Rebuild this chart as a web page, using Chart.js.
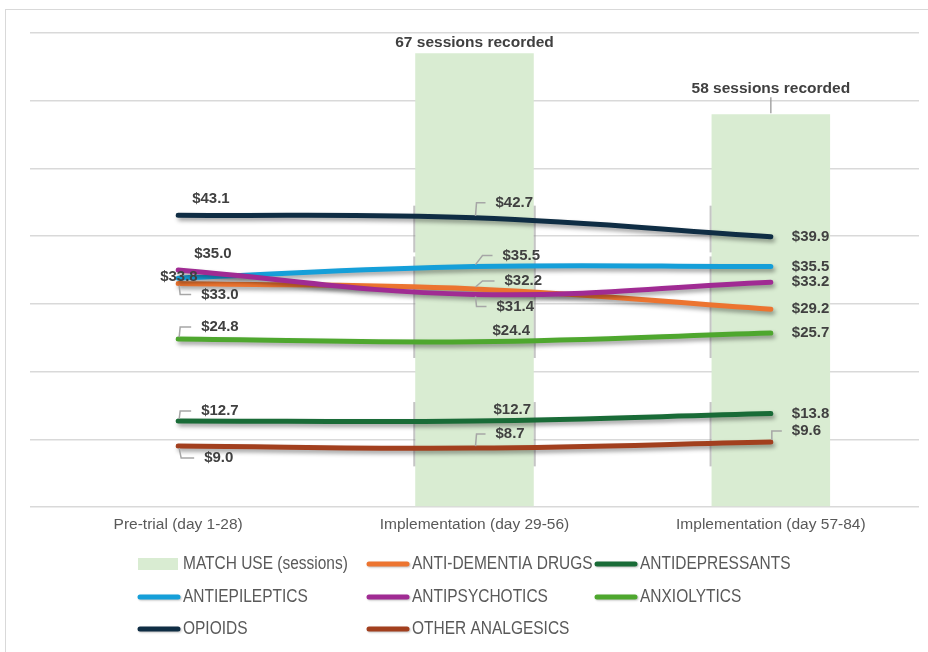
<!DOCTYPE html>
<html>
<head>
<meta charset="utf-8">
<script src="https://cdn.jsdelivr.net/npm/chart.js@4.4.1/dist/chart.umd.min.js"></script>
<style>
  html, body { margin: 0; padding: 0; background: #ffffff; }
  #wrap { position: relative; width: 928px; height: 652px; overflow: hidden; }
  #frame { position: absolute; left: 5px; top: 9px; width: 1000px; height: 1000px; border: 1px solid #d9d9d9; }
  #c { position: absolute; left: 0; top: 0; }
</style>
</head>
<body>
<div id="wrap">
  <div id="frame"></div>
  <canvas id="c" width="928" height="652"></canvas>
</div>
<script>
// Reporting periods
const periods = ['Pre-trial (day 1-28)', 'Implementation (day 29-56)', 'Implementation (day 57-84)'];

// MATCH sessions recorded in each period
const matchSessions = [null, 67, 58];

// Cost per drug class ($)
const antiDementia    = [33.0, 32.2, 29.2];
const antidepressants = [12.7, 12.7, 13.8];
const antiepileptics  = [33.8, 35.5, 35.5];
const antipsychotics  = [35.0, 31.4, 33.2];
const anxiolytics     = [24.8, 24.4, 25.7];
const opioids         = [43.1, 42.7, 39.9];
const otherAnalgesics = [9.0, 8.7, 9.6];

const LABEL_FONT = 'bold 15px "Liberation Sans", Arial, sans-serif';
const TEXT_FAMILY = '"Liberation Sans", Arial, sans-serif';

// Value label placement per point: [dx, dy, leaderElbowX or null]
const labelPlacement = {
  'ANTI-DEMENTIA DRUGS': [[23, 11, 2], [30, -8, 8], [21, 0, null]],
  'ANTIDEPRESSANTS':     [[23, -10, 2], [19, -11, null], [21, 0, null]],
  'ANTIEPILEPTICS':      [[-18, -1, null], [28, -11, 8], [21, 0, null]],
  'ANTIPSYCHOTICS':      [[16, -16, null], [22, 12, 2], [21, 0, null]],
  'ANXIOLYTICS':         [[23, -12, 2], [18, -11, null], [21, 0, null]],
  'OPIOIDS':             [[14, -16, null], [21, -15, 2], [21, 0, null]],
  'OTHER ANALGESICS':    [[26, 12, 3], [21, -14, 2], [21, -11, 1]]
};

function lineSet(label, data, color, idx) {
  return {
    type: 'line', label, data,
    borderColor: color, backgroundColor: color,
    borderWidth: 5, borderCapStyle: 'round', borderJoinStyle: 'round',
    tension: 0.4, pointRadius: 0, pointHoverRadius: 0,
    order: 50 - idx
  };
}

const datasets = [
  { type: 'bar', label: 'MATCH USE (sessions)', data: matchSessions,
    backgroundColor: '#d9ecd2', borderWidth: 0,
    barPercentage: 0.4, categoryPercentage: 1.0, order: 100 },
  lineSet('ANTI-DEMENTIA DRUGS', antiDementia, '#ec7430', 1),
  lineSet('ANTIDEPRESSANTS', antidepressants, '#196b37', 2),
  lineSet('ANTIEPILEPTICS', antiepileptics, '#159fd9', 3),
  lineSet('ANTIPSYCHOTICS', antipsychotics, '#a02b93', 4),
  lineSet('ANXIOLYTICS', anxiolytics, '#4ea72e', 5),
  lineSet('OPIOIDS', opioids, '#0f2d44', 6),
  lineSet('OTHER ANALGESICS', otherAnalgesics, '#a23f1e', 7)
];

// Soft drop shadow under each line
const lineShadow = {
  id: 'lineShadow',
  beforeDatasetDraw(chart, args) {
    if (args.meta.type !== 'line') return;
    const ctx = chart.ctx;
    ctx.save();
    ctx.shadowColor = 'rgba(0,0,0,0.38)';
    ctx.shadowBlur = 4;
    ctx.shadowOffsetX = 2;
    ctx.shadowOffsetY = 3;
  },
  afterDatasetDraw(chart, args) {
    if (args.meta.type !== 'line') return;
    chart.ctx.restore();
  }
};

// Grey edge strokes along the session bars
const barEdges = {
  id: 'barEdges',
  afterDatasetDraw(chart, args) {
    if (args.meta.type !== 'bar') return;
    const ctx = chart.ctx, y = chart.scales.y;
    const segs = [[44.5, 37.6], [37.0, 22.0], [15.5, 6.0]];
    const edges = [];
    args.meta.data.forEach((bar, i) => {
      if (matchSessions[i] == null) return;
      edges.push(bar.x - bar.width / 2 - 1);
      if (i === 1) edges.push(bar.x + bar.width / 2 + 1);
    });
    ctx.save();
    ctx.strokeStyle = 'rgba(140,140,140,0.5)';
    ctx.lineWidth = 2;
    edges.forEach(x => {
      segs.forEach(([a, b]) => {
        ctx.beginPath();
        ctx.moveTo(x, y.getPixelForValue(a));
        ctx.lineTo(x, y.getPixelForValue(b));
        ctx.stroke();
      });
    });
    ctx.restore();
  }
};

// Value labels, session captions and legend
const annotations = {
  id: 'annotations',
  afterDraw(chart) {
    const ctx = chart.ctx;
    ctx.save();
    ctx.font = LABEL_FONT;
    ctx.textBaseline = 'middle';
    ctx.fillStyle = '#404040';
    ctx.strokeStyle = '#a6a6a6';
    ctx.lineWidth = 1.5;

    chart.data.datasets.forEach((ds, di) => {
      const meta = chart.getDatasetMeta(di);
      if (ds.type === 'bar') {
        ctx.save();
        ctx.font = 'bold 15.5px ' + TEXT_FAMILY;
        meta.data.forEach((bar, i) => {
          const v = ds.data[i];
          if (v == null) return;
          const text = v + ' sessions recorded';
          ctx.textAlign = 'center';
          if (i === 1) {
            ctx.fillText(text, bar.x, bar.y - 11);
          } else {
            ctx.fillText(text, bar.x, bar.y - 26);
            ctx.beginPath();
            ctx.moveTo(bar.x, bar.y - 17);
            ctx.lineTo(bar.x, bar.y - 1);
            ctx.stroke();
          }
        });
        ctx.restore();
        return;
      }
      const place = labelPlacement[ds.label];
      meta.data.forEach((pt, i) => {
        const [dx, dy, lx] = place[i];
        const tx = pt.x + dx, ty = pt.y + dy;
        ctx.textAlign = 'left';
        ctx.fillText('$' + ds.data[i].toFixed(1), tx, ty);
        if (lx != null) {
          ctx.beginPath();
          ctx.moveTo(pt.x + 1, pt.y + (dy < 0 ? -2 : 2));
          ctx.lineTo(pt.x + lx, ty);
          ctx.lineTo(tx - 10, ty);
          ctx.stroke();
        }
      });
    });

    // Legend: three columns, three rows, condensed lettering
    const colX = [137, 366, 594];
    const rowY = [564, 597, 629];
    const squeeze = 0.86;
    ctx.textAlign = 'left';
    chart.data.datasets.forEach((ds, i) => {
      const x0 = colX[i % 3], cy = rowY[Math.floor(i / 3)];
      if (ds.type === 'bar') {
        ctx.fillStyle = ds.backgroundColor;
        ctx.fillRect(x0 + 1, cy - 6, 40, 12);
      } else {
        ctx.save();
        ctx.shadowColor = 'rgba(0,0,0,0.25)';
        ctx.shadowBlur = 2;
        ctx.shadowOffsetX = 1;
        ctx.shadowOffsetY = 1;
        ctx.strokeStyle = ds.borderColor;
        ctx.lineWidth = 5;
        ctx.lineCap = 'round';
        ctx.beginPath();
        ctx.moveTo(x0 + 3, cy);
        ctx.lineTo(x0 + 41, cy);
        ctx.stroke();
        ctx.restore();
      }
      ctx.save();
      ctx.translate(x0 + 46, cy);
      ctx.scale(squeeze, 1);
      ctx.font = '18px ' + TEXT_FAMILY;
      ctx.fillStyle = '#595959';
      ctx.fillText(ds.label, 0, 0);
      ctx.restore();
    });
    ctx.restore();
  }
};

new Chart(document.getElementById('c'), {
  data: { labels: periods, datasets },
  options: {
    responsive: false,
    animation: false,
    events: [],
    layout: { padding: { left: 0, right: 9, top: 33, bottom: 0 } },
    plugins: { legend: { display: false }, tooltip: { enabled: false } },
    scales: {
      x: {
        offset: true,
        grid: { display: false, drawTicks: false },
        border: { display: false },
        ticks: { color: '#595959', font: { family: TEXT_FAMILY, size: 15.5 }, padding: 8, maxRotation: 0 },
        afterFit(scale) { scale.height = 145; }
      },
      y: {
        min: 0, max: 70,
        ticks: { display: false, stepSize: 10 },
        grid: { color: '#d9d9d9', lineWidth: 1.5, drawTicks: false },
        border: { display: false },
        afterFit(scale) { scale.width = 30; }
      }
    }
  },
  plugins: [lineShadow, barEdges, annotations]
});
</script>
</body>
</html>
